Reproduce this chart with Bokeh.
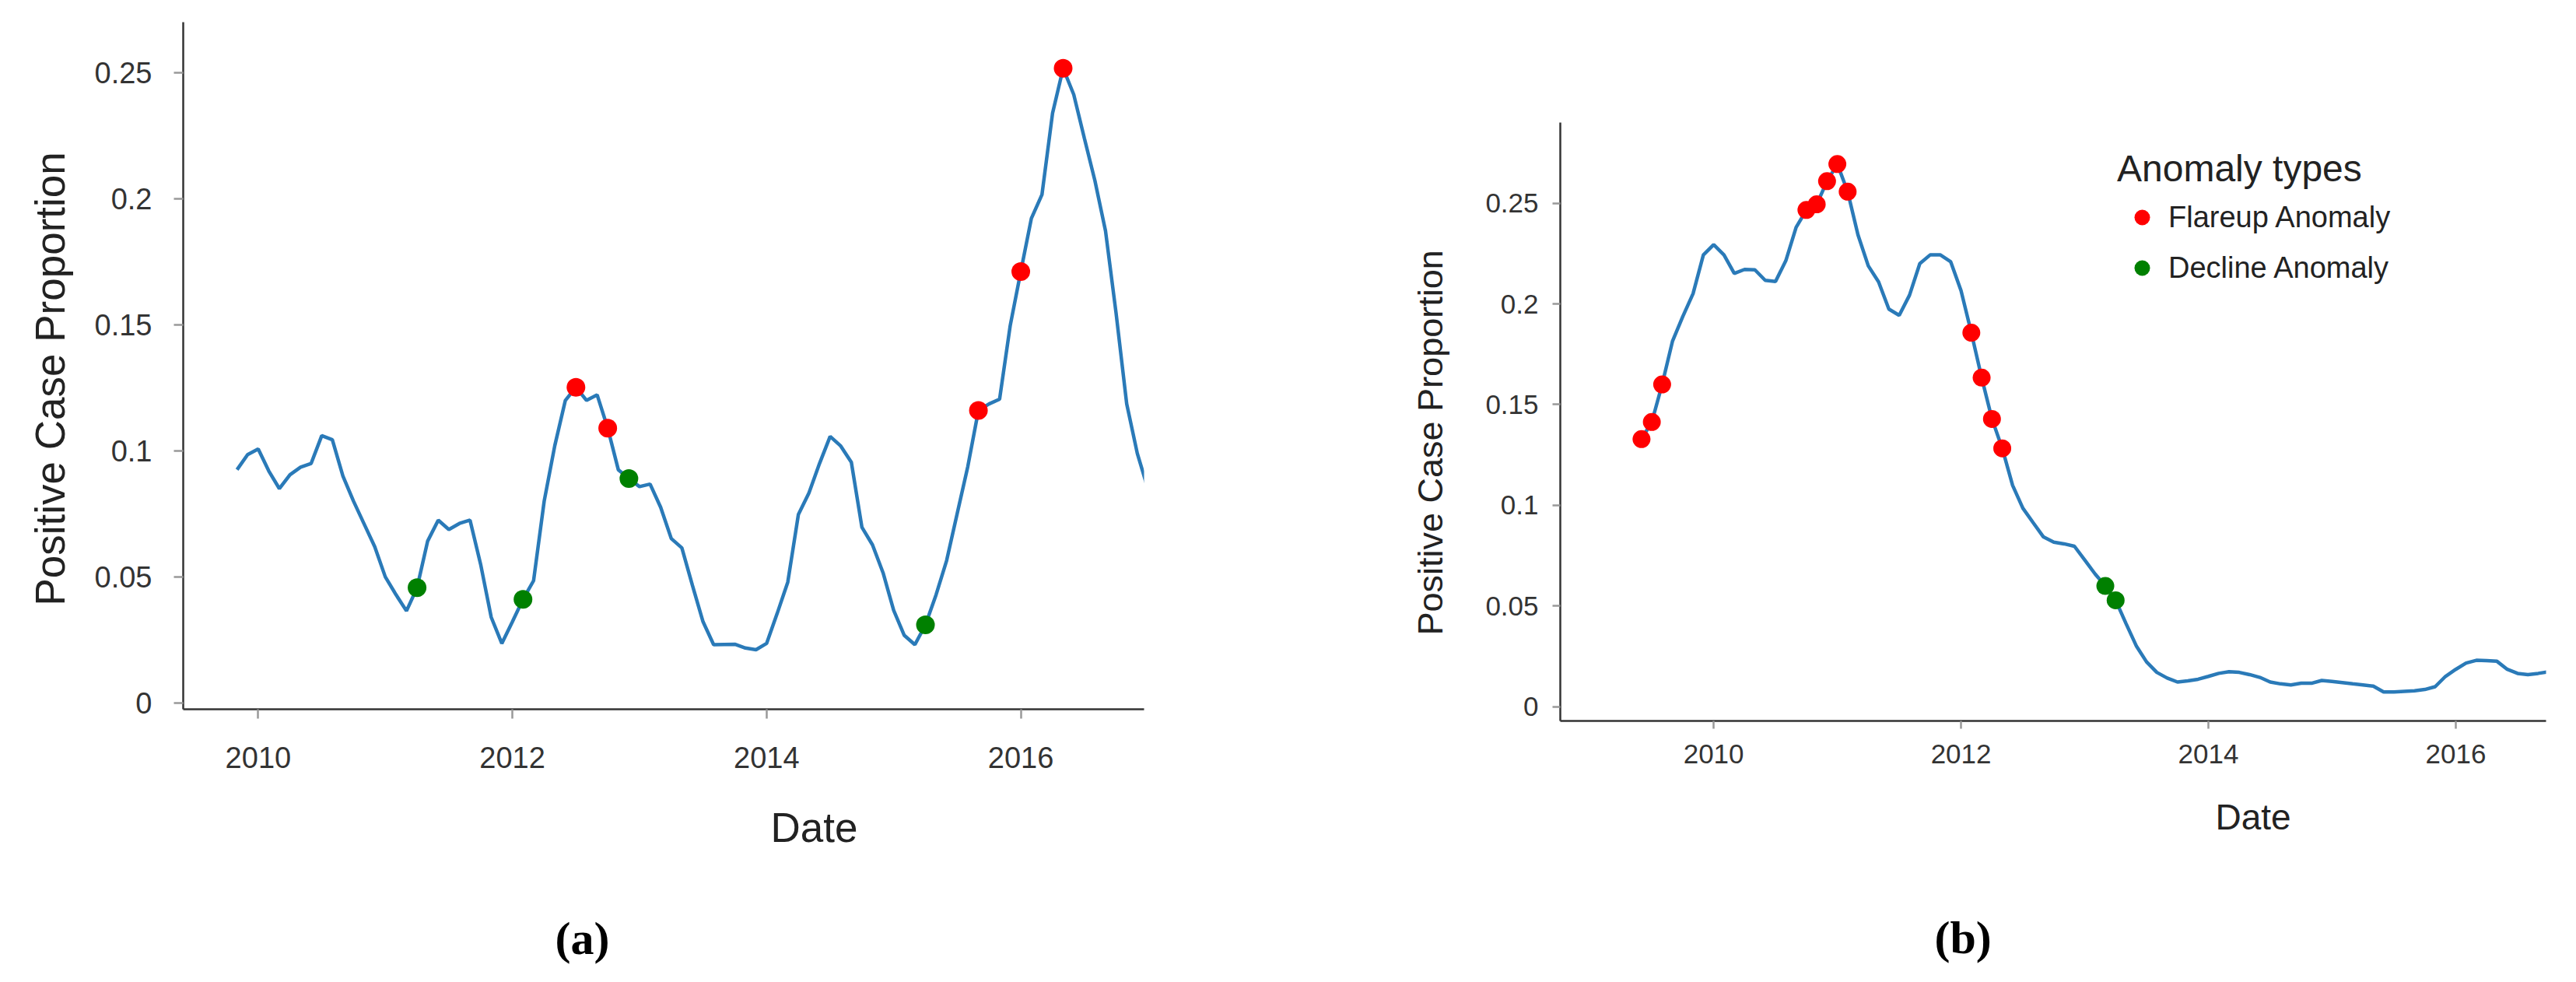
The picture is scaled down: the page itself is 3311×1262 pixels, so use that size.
from bokeh.plotting import figure
from bokeh.layouts import row
from bokeh.models import FixedTicker, Range1d, Title, Legend, LegendItem
from bokeh.embed import file_html
from bokeh.resources import INLINE

# ---------------- data: panel (a) ----------------
a_start = "2009-11"
a_values = [0.0925, 0.0985, 0.1007, 0.092, 0.085, 0.0905, 0.0935, 0.095, 0.106, 0.1044,
            0.090, 0.080, 0.071, 0.062, 0.050, 0.043, 0.0365, 0.0457, 0.0642, 0.0725,
            0.0688, 0.0712, 0.0725, 0.055, 0.034, 0.0236, 0.0322, 0.0411, 0.0485, 0.080,
            0.1020, 0.1200, 0.1252, 0.1200, 0.1222, 0.1090, 0.0925, 0.0890, 0.0858, 0.0868,
            0.0776, 0.0652, 0.0615, 0.0466, 0.0322, 0.0231, 0.0232, 0.0233, 0.0218, 0.0211,
            0.0236, 0.0355, 0.0479, 0.0747, 0.0833, 0.0950, 0.1057, 0.1019, 0.0955, 0.0697,
            0.0627, 0.0516, 0.0367, 0.0268, 0.0231, 0.0310, 0.0429, 0.0565, 0.0752, 0.0938,
            0.1160, 0.1186, 0.1205, 0.1496, 0.1711, 0.1922, 0.2016, 0.2339, 0.2517, 0.2413,
            0.2240, 0.2071, 0.1872, 0.1545, 0.1186, 0.0990, 0.0850, 0.0750]
a_flareup = ["2012-07", "2012-10", "2015-09", "2016-01", "2016-05"]
a_decline = ["2011-04", "2012-02", "2012-12", "2015-04"]

# ---------------- data: panel (b) ----------------
b_start = "2009-06"
b_values = [0.1329, 0.1414, 0.160, 0.1814, 0.1937, 0.2051, 0.2243, 0.2294, 0.2243, 0.2151,
            0.2171, 0.2169, 0.2117, 0.2111, 0.2214, 0.238, 0.2466, 0.2494, 0.2609, 0.2694,
            0.2557, 0.2343, 0.2189, 0.2109, 0.1974, 0.1943, 0.2043, 0.220, 0.2243, 0.2243,
            0.2209, 0.2066, 0.1857, 0.1634, 0.1429, 0.1283, 0.110, 0.0986, 0.0914, 0.0843,
            0.0817, 0.0809, 0.0797, 0.0729, 0.066, 0.060, 0.0529, 0.0414, 0.0303, 0.0223,
            0.0171, 0.0143, 0.0123, 0.0129, 0.0137, 0.0151, 0.0166, 0.0174, 0.0171, 0.016,
            0.0146, 0.0123, 0.0114, 0.0109, 0.0117, 0.0117, 0.0131, 0.0126, 0.012, 0.0114,
            0.0109, 0.0103, 0.0074, 0.0074, 0.0077, 0.008, 0.0086, 0.010, 0.0151, 0.0186,
            0.0217, 0.0231, 0.0229, 0.0226, 0.0186, 0.0166, 0.016, 0.0166, 0.0174, 0.018]
b_flareup = ["2009-06", "2009-07", "2009-08", "2010-10", "2010-11", "2010-12", "2011-01",
             "2011-02", "2012-02", "2012-03", "2012-04", "2012-05"]
b_decline = ["2013-03", "2013-04"]

x_ticks = [2010, 2012, 2014, 2016]
y_ticks = [0, 0.05, 0.1, 0.15, 0.2, 0.25]
y_tick_labels = ["0", "0.05", "0.1", "0.15", "0.2", "0.25"]
legend_title = "Anomaly types"
legend_labels = ["Flareup Anomaly", "Decline Anomaly"]
x_title = "Date"
y_title = "Positive Case Proportion"
panel_tags = ["(a)", "(b)"]

LINE = "#2a7ab8"
RED = "#ff0000"
GREEN = "#008000"
FONT = "Liberation Sans"


def dec(ym):
    y, m = ym.split("-")
    return int(y) + (int(m) - 1) / 12.0


def series_x(start, n):
    s = dec(start)
    return [s + i / 12.0 for i in range(n)]


def pick(start, values, months):
    s = dec(start)
    xs, ys = [], []
    for ym in months:
        i = int(round((dec(ym) - s) * 12))
        xs.append(dec(ym))
        ys.append(values[i])
    return xs, ys


def make_fig(xr, yr, fw, fh, bl, br, bt, bb, tick_fs, ylab_std, xlab_std, tick_out):
    p = figure(output_backend="svg", toolbar_location=None,
               frame_width=fw, frame_height=fh,
               min_border_left=bl, min_border_right=br, min_border_top=bt, min_border_bottom=bb,
               x_range=Range1d(*xr), y_range=Range1d(*yr))
    p.frame_align = False
    p.outline_line_color = None
    p.grid.visible = False
    p.background_fill_color = "white"
    p.border_fill_color = "white"
    for ax in (p.xaxis[0], p.yaxis[0]):
        ax.axis_line_color = "#333333"
        ax.axis_line_width = 2.5
        ax.major_tick_line_color = "#999999"
        ax.major_tick_line_width = 2.5
        ax.major_tick_out = tick_out
        ax.major_tick_in = 0
        ax.minor_tick_line_color = None
        ax.major_label_text_font = FONT
        ax.major_label_text_font_size = f"{tick_fs}px"
        ax.major_label_text_color = "#333333"
    p.yaxis.major_label_standoff = ylab_std
    p.xaxis.major_label_standoff = xlab_std
    p.xaxis.ticker = FixedTicker(ticks=x_ticks)
    p.yaxis.ticker = FixedTicker(ticks=y_ticks)
    p.yaxis.major_label_overrides = {t: l for t, l in zip(y_ticks, y_tick_labels)}
    p.xaxis.major_label_overrides = {t: str(t) for t in x_ticks}
    return p


def add_title(p, side, text, font, style, size, offset, standoff, color):
    t = Title(text=text, align="left", offset=offset, standoff=standoff,
              text_font=font, text_font_style=style, text_font_size=size,
              text_color=color)
    p.add_layout(t, side)


# ---------------- panel (a) ----------------
pa = make_fig((2009.41, 2016.97), (-0.0025, 0.27), 1235, 883, 235, 230, 28, 335,
              38, 28, 36, 12)
ax_x = series_x(a_start, len(a_values))
pa.line(ax_x, a_values, line_color=LINE, line_width=4.5)
fx, fy = pick(a_start, a_values, a_flareup)
dx, dy = pick(a_start, a_values, a_decline)
pa.scatter(fx, fy, size=24, fill_color=RED, line_color=None)
pa.scatter(dx, dy, size=24, fill_color=GREEN, line_color=None)
add_title(pa, "left", y_title, FONT, "normal", "53px", 133, 50, "#222222")
add_title(pa, "below", x_title, FONT, "normal", "53px", 755, 85, "#222222")
add_title(pa, "below", panel_tags[0], "Liberation Serif", "bold", "60px", 478, 70, "#000000")

# ---------------- panel (b) ----------------
pb = make_fig((2008.76, 2016.73), (-0.007, 0.29), 1267, 769, 305, 23, 157, 320,
              35, 18, 20, 10)
bx = series_x(b_start, len(b_values))
pb.line(bx, b_values, line_color=LINE, line_width=4.5)
fx, fy = pick(b_start, b_values, b_flareup)
dx, dy = pick(b_start, b_values, b_decline)
rf = pb.scatter(fx, fy, size=23, fill_color=RED, line_color=None)
rd = pb.scatter(dx, dy, size=23, fill_color=GREEN, line_color=None)
add_title(pb, "left", y_title, FONT, "normal", "45px", 110, 86, "#222222")
add_title(pb, "below", x_title, FONT, "normal", "46px", 842, 77, "#222222")
add_title(pb, "below", panel_tags[1], "Liberation Serif", "bold", "60px", 481, 111, "#000000")

legend = Legend(items=[LegendItem(label=legend_labels[0], renderers=[rf]),
                       LegendItem(label=legend_labels[1], renderers=[rd])],
                location=(716, 557), title=legend_title)
legend.title_text_font = FONT
legend.title_text_font_style = "normal"
legend.title_text_font_size = "48px"
legend.title_text_color = "#222222"
legend.title_standoff = 10
legend.label_text_font = FONT
legend.label_text_font_size = "38px"
legend.label_text_color = "#222222"
legend.glyph_width = 64
legend.glyph_height = 50
legend.label_height = 50
legend.label_standoff = 2
legend.spacing = 15
legend.padding = 0
legend.margin = 0
legend.border_line_color = None
legend.background_fill_alpha = 0
pb.add_layout(legend)

layout = row(pa, pb)
open("out.html", "w").write(file_html(layout, INLINE))
